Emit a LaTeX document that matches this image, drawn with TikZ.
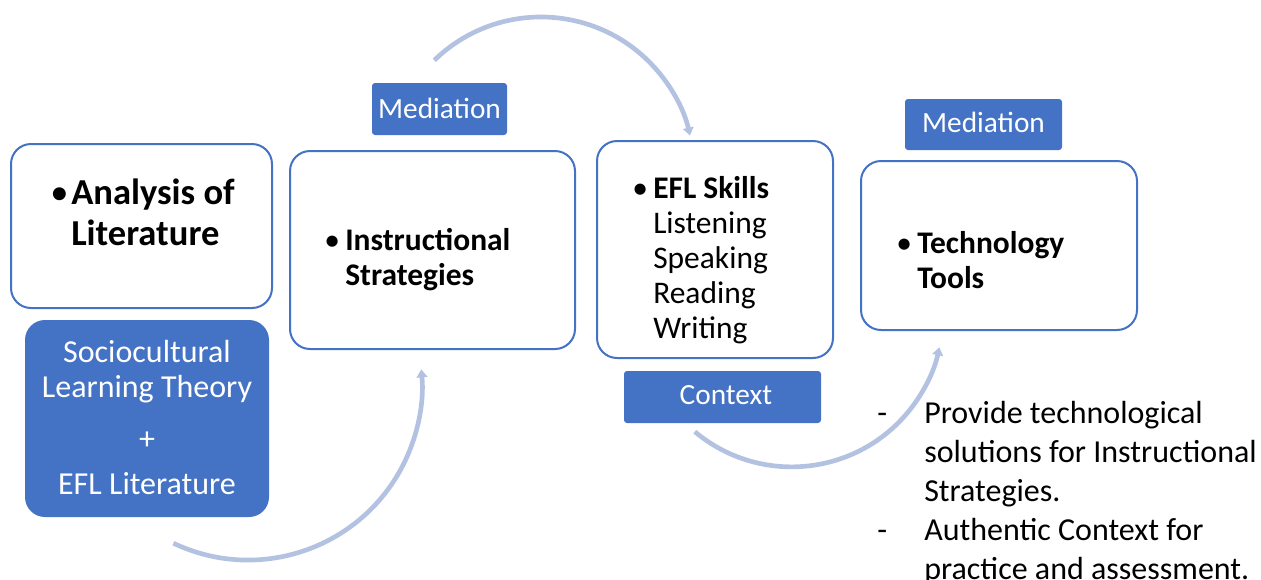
\documentclass[tikz,border=0pt]{standalone}
\usepackage{fontspec}
\setmainfont{Carlito}
\usetikzlibrary{arrows.meta,fit}
\definecolor{accent}{HTML}{4472C4}
\definecolor{flowc}{HTML}{B4C2E2}
% bullet followed by the hanging indent used in the cards
\newcommand\bulletcell{\makebox[15.75pt][l]{\mdseries\textbullet}}
\newcommand\hangcell{\hspace*{15.75pt}}
\begin{document}
\begin{tikzpicture}[x=0.75pt,y=-0.75pt,
  card/.style={draw=accent, line width=1.5pt, rounded corners=15pt, fill=white, inner sep=0pt},
  panel/.style={fill=accent, rounded corners=15pt, inner sep=0pt},
  tag/.style={fill=accent, rounded corners=2.25pt, inner sep=0pt},
  tagtext/.style={anchor=base, inner sep=0pt, text=white, font=\fontsize{22}{26}\selectfont},
  txt/.style={anchor=base west, inner sep=0pt},
  bodyfont/.style={font=\fontsize{23.6}{26.25}\selectfont},
  flow/.style={draw=flowc, line width=3.5pt, -{Triangle[length=6pt,width=8pt]}}]
\useasboundingbox (0,0) rectangle (1261,579);

% cards
\node[card, fit={(11,144) (272,308)}] (lit) {};
\node[card, fit={(290,151) (575,349)}] (strat) {};
\node[card, fit={(597,141) (833,358)}] (skills) {};
\node[card, fit={(861,161) (1137,330)}] (tools) {};

% filled panel and tags
\node[panel, fit={(25,320) (269,517)}] (theory) {};
\node[tag, fit={(372,83) (507,135)}] (med1) {};
\node[tag, fit={(905,99) (1062,150)}] (med2) {};
\node[tag, fit={(624,371) (821,423)}] (ctx) {};
\node[tagtext] (med1text) at (439.5,118) {Mediation};
\node[tagtext] (med2text) at (983.5,132) {Mediation};
\node[tagtext] (ctxtext) at (726,404) {Context};

% card texts
\node[txt, font=\fontsize{27.4}{30.75}\selectfont\bfseries] (littext) at (50,204)
  {\begin{tabular}[t]{@{}l@{}}\bulletcell Analysis of\\\hangcell Literature\end{tabular}};
\node[txt, bodyfont] (strattext) at (324,250)
  {\begin{tabular}[t]{@{}l@{}}\bulletcell\textbf{Instructional}\\\hangcell\textbf{Strategies}\end{tabular}};
\node[txt, bodyfont] (skilltext) at (632,198)
  {\begin{tabular}[t]{@{}l@{}}\bulletcell\textbf{EFL Skills}\\\hangcell Listening\\\hangcell Speaking\\\hangcell Reading\\\hangcell Writing\end{tabular}};
\node[txt, bodyfont] (tooltext) at (896,253)
  {\begin{tabular}[t]{@{}l@{}}\bulletcell\textbf{Technology}\\\hangcell\textbf{Tools}\end{tabular}};

\node[anchor=base, inner sep=0pt, text=white, font=\fontsize{24}{26.25}\selectfont] (theorytext) at (147,362)
  {\begin{tabular}[t]{@{}c@{}}Sociocultural\\Learning Theory\\[12.75pt]+\\[7.5pt]EFL Literature\end{tabular}};

% notes beside the last card
\node[txt, font=\fontsize{24}{29.25}\selectfont] (notes) at (877,423)
  {\begin{tabular}[t]{@{}l@{}}\makebox[35.25pt][l]{-}Provide technological\\\hspace*{35.25pt}solutions for Instructional\\\hspace*{35.25pt}Strategies.\\\makebox[35.25pt][l]{-}Authentic Context for\\\hspace*{35.25pt}practice and assessment.\end{tabular}};

% curved flow arrows
\coordinate (f1) at (173.4,543.2);
\coordinate (f2) at (434.3,60.3);
\coordinate (f3) at (694.8,431.7);
\draw[flow] (f1) arc[start angle=115.4, end angle=-5.5, radius=174];
\draw[flow] (f2) arc[start angle=-134.2, end angle=-13, radius=153];
\draw[flow] (f3) arc[start angle=129.9, end angle=12, radius=151];
\end{tikzpicture}
\end{document}
